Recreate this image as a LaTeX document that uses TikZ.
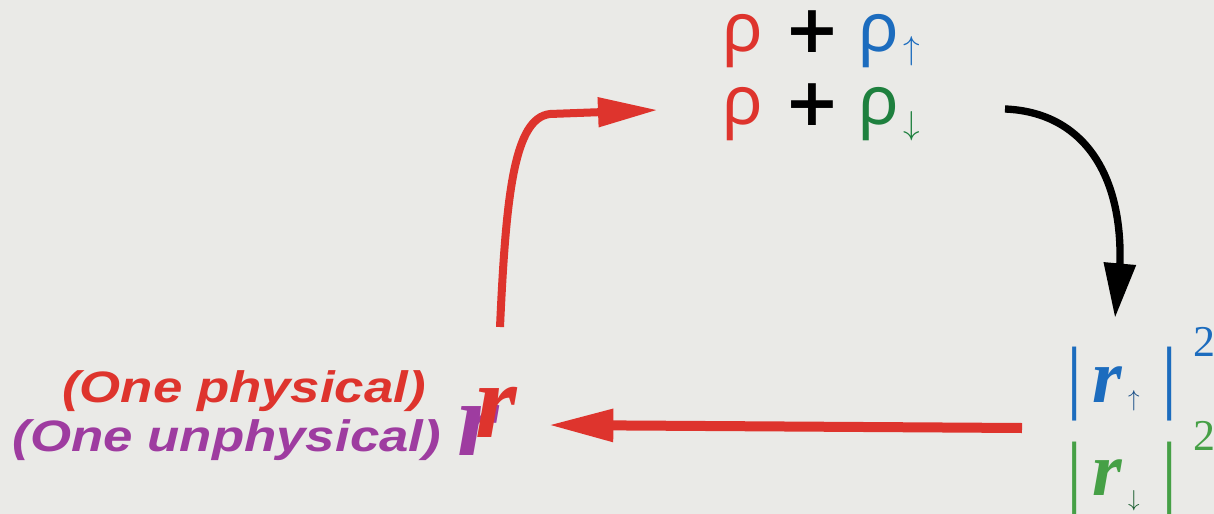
\documentclass[tikz,border=0pt]{standalone}
\usepackage{fontspec}
\usetikzlibrary{arrows.meta}
\newfontfamily\rhofont{Noto Sans}
\newfontfamily\plusfont{DejaVu Sans}
\newfontfamily\labfont[FakeStretch=1.2]{Liberation Sans}
\newfontfamily\rfont{Liberation Serif}
\definecolor{bgc}{RGB}{234,234,231}
\definecolor{myred}{RGB}{222,52,45}
\definecolor{myblue}{RGB}{28,108,190}
\definecolor{mygreen}{RGB}{30,128,62}
\definecolor{mygreenb}{RGB}{70,160,70}
\definecolor{mypurple}{RGB}{158,60,160}
\begin{document}
\begin{tikzpicture}[x=0.75pt,y=-0.75pt,
  every node/.style={inner sep=0pt,outer sep=0pt},
  rho/.style={anchor=base west,font=\rhofont\fontsize{51}{51}\selectfont},
  plussign/.style={anchor=center,font=\plusfont\bfseries\fontsize{50}{50}\selectfont},
  spin/.style={anchor=south west,font=\fontsize{24}{24}\selectfont},
  spinsmall/.style={anchor=south west,font=\fontsize{17}{17}\selectfont},
  lab/.style={anchor=base east,font=\labfont\bfseries\itshape\fontsize{33}{33}\selectfont},
  bigr/.style={anchor=base west,font=\rfont\bfseries\itshape\fontsize{80}{80}\selectfont},
  smallr/.style={anchor=base west,font=\rfont\bfseries\itshape\fontsize{57}{57}\selectfont},
  absbar/.style={anchor=north,font=\rfont\fontsize{61}{61}\selectfont},
  sqr/.style={anchor=base west,font=\rfont\fontsize{33}{33}\selectfont},
  redup/.style={draw=myred,line width=6pt,-{Triangle[length=45pt,width=21pt]}},
  blackdown/.style={draw=black,line width=5.5pt,-{Triangle[length=41pt,width=23pt]}},
  redleft/.style={draw=myred,line width=7.5pt,-{Triangle[length=49pt,width=23pt]}}
]
\fill[bgc] (0,0) rectangle (1214,514);
\useasboundingbox (0,0) rectangle (1214,514);

% top block
\node[rho,text=myred] (rhoA) at (722,51) {ρ};
\node[plussign] (plusA) at (812,32) {+};
\node[rho,text=myblue] (rhoB) at (858,51) {ρ};
\node[spin,text=myblue] (upA) at (903,66) {$\uparrow$};
\node[rho,text=myred] (rhoC) at (722,124) {ρ};
\node[plussign] (plusB) at (812,105) {+};
\node[rho,text=mygreen] (rhoD) at (858,124) {ρ};
\node[spin,text=mygreen] (downA) at (903,141) {$\downarrow$};

% left labels
\node[lab,text=myred] (phys) at (426,402) {(One physical)};
\node[lab,text=mypurple] (unphys) at (441,451) {(One unphysical)};
\node[bigr,text=mypurple] (rP) at (457,455) {r};
\node[bigr,text=myred] (rR) at (475,437) {r};

% right block
\node[absbar,text=myblue] (barA) at (1075,347) {|};
\node[smallr,text=myblue] (rup) at (1092,402) {r};
\node[spinsmall,text=myblue!70!black] (upB) at (1128,411) {$\uparrow$};
\node[absbar,text=myblue] (barB) at (1170,347) {|};
\node[sqr,text=myblue] (sqA) at (1193,356) {2};
\node[absbar,text=mygreenb] (barC) at (1075,442) {|};
\node[smallr,text=mygreenb] (rdown) at (1092,495) {r};
\node[spinsmall,text=mygreen!70!black] (downB) at (1128,511) {$\downarrow$};
\node[absbar,text=mygreenb] (barD) at (1170,442) {|};
\node[sqr,text=mygreenb] (sqB) at (1193,450) {2};

% connectors
\coordinate (upS) at (500,327);
\coordinate (upE) at (658,110);
\draw[redup] (upS) .. controls (506,195) and (514,118) .. (550,114) -- (upE);
\coordinate (bS) at (1005,109);
\coordinate (bE) at (1115,318);
\draw[blackdown] (bS) .. controls (1080,112) and (1122,170) .. (1120,262) -- (bE);
\coordinate (hS) at (1022,428);
\coordinate (hE) at (548,425);
\draw[redleft] (hS) -- (hE);
\end{tikzpicture}
\end{document}
